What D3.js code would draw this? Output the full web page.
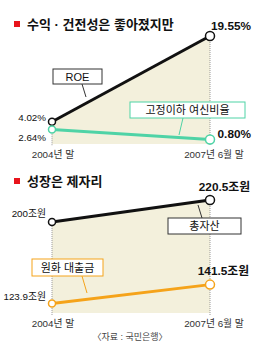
<!DOCTYPE html>
<html lang="ko">
<head>
<meta charset="UTF-8"/>
<title>수익 건전성 / 성장</title>
<script src="https://d3js.org/d3.v7.min.js"></script>
<style>
    body { margin: 0; background: #fff; }
    svg text { font-family: "Liberation Sans", "Noto Sans CJK KR", sans-serif; }
</style>
</head>
<body>
<script>
    var w = 259;
    var h = 352;

    var periods = ["2004년 말", "2007년 6월 말"];
    var roe = [4.02, 19.55];
    var npl = [2.64, 0.80];
    var roeLabels = ["4.02%", "19.55%"];
    var nplLabels = ["2.64%", "0.80%"];

    var assets = [200, 220.5];
    var loans = [123.9, 141.5];
    var assetLabels = ["200조원", "220.5조원"];
    var loanLabels = ["123.9조원", "141.5조원"];

    var fillCol = "#f3f0dc";
    var teal = "#4fd3a6";
    var orange = "#f5a31a";

    var svg = d3.select("body").append("svg")
        .attr("width", w)
        .attr("height", h);

    var xScale = d3.scalePoint()
        .domain(periods)
        .range([52, 210]);

    function panel(cfg) {
        var yScale = d3.scaleLinear()
            .domain(cfg.domain)
            .range(cfg.range);
        var g = svg.append("g");
        var base = cfg.domain[0];

        // title
        g.append("rect").attr("x", 14).attr("y", cfg.titleY - 8)
            .attr("width", 6).attr("height", 6).attr("fill", "#e8141c");
        g.append("text").attr("x", 27).attr("y", cfg.titleY)
            .attr("font-size", 13).attr("font-weight", "bold")
            .attr("fill", "#111").text(cfg.title);

        // beige area under the top line
        var area = d3.area()
            .x(function(d, i) { return xScale(periods[i]); })
            .y0(yScale(base))
            .y1(function(d) { return yScale(d); });
        g.append("path").datum(cfg.top).attr("d", area).attr("fill", fillCol);

        // dotted verticals
        periods.forEach(function(p, i) {
            g.append("line")
                .attr("x1", xScale(p)).attr("x2", xScale(p))
                .attr("y1", yScale(cfg.top[i])).attr("y2", yScale(base) + 2)
                .attr("stroke", "#999").attr("stroke-width", 1)
                .attr("stroke-dasharray", "1,1");
            g.append("text")
                .attr("x", xScale(p) + (i == 0 ? 1 : 4))
                .attr("y", yScale(base) + 14)
                .attr("text-anchor", "middle")
                .attr("font-size", 9.8).attr("fill", "#333")
                .text(p);
        });

        var line = d3.line()
            .x(function(d, i) { return xScale(periods[i]); })
            .y(function(d) { return yScale(d); });

        [[cfg.top, cfg.topColor], [cfg.bottom, cfg.bottomColor]].forEach(function(s) {
            g.append("path").datum(s[0]).attr("d", line)
                .attr("fill", "none").attr("stroke", s[1]).attr("stroke-width", 3);
        });

        // label boxes with connector ticks
        cfg.boxes.forEach(function(b) {
            g.append("line").attr("x1", b.lx1).attr("y1", b.ly1)
                .attr("x2", b.lx2).attr("y2", b.ly2)
                .attr("stroke", b.color).attr("stroke-width", 1);
            g.append("rect").attr("x", b.x).attr("y", b.y)
                .attr("width", b.w).attr("height", b.h)
                .attr("fill", "#fff").attr("stroke", b.color).attr("stroke-width", 1);
            g.append("text").attr("x", b.x + b.w / 2).attr("y", b.y + b.h / 2 + 4)
                .attr("text-anchor", "middle").attr("font-size", 11).attr("fill", "#111")
                .text(b.text);
        });

        [[cfg.top, cfg.topColor], [cfg.bottom, cfg.bottomColor]].forEach(function(s) {
            g.selectAll(null).data(s[0]).enter().append("circle")
                .attr("cx", function(d, i) { return xScale(periods[i]); })
                .attr("cy", function(d) { return yScale(d); })
                .attr("r", function(d, i) { return i == 0 ? 3.5 : 4.5; })
                .attr("fill", "#fff").attr("stroke", s[1]).attr("stroke-width", 1.5);
        });

        // value labels
        cfg.values.forEach(function(v) {
            g.append("text").attr("x", v.x).attr("y", yScale(v.v) + v.dy)
                .attr("text-anchor", v.anchor)
                .attr("font-size", v.bold ? 11.8 : 9.8)
                .attr("font-weight", v.bold ? "bold" : "normal")
                .attr("fill", "#111").text(v.text);
        });
    }

    panel({
        title: "수익 · 건전성은 좋아졌지만",
        titleY: 29,
        domain: [0, 19.55],
        range: [144, 36],
        top: roe, topColor: "#111",
        bottom: npl, bottomColor: teal,
        boxes: [
            { text: "ROE", x: 53, y: 69, w: 49, h: 15, color: "#333",
              lx1: 82, ly1: 84, lx2: 86, ly2: 97 },
            { text: "고정이하 여신비율", x: 130, y: 102, w: 115, h: 16, color: teal,
              lx1: 183, ly1: 118, lx2: 179, ly2: 135 }
        ],
        values: [
            { v: roe[0], text: roeLabels[0], x: 46, dy: -1, anchor: "end" },
            { v: npl[0], text: nplLabels[0], x: 46, dy: 12, anchor: "end" },
            { v: roe[1], text: roeLabels[1], x: 251, dy: -6, anchor: "end", bold: true },
            { v: npl[1], text: nplLabels[1], x: 251, dy: -2, anchor: "end", bold: true }
        ]
    });

    panel({
        title: "성장은 제자리",
        titleY: 186,
        domain: [115, 220.5],
        range: [313, 200],
        top: assets, topColor: "#111",
        bottom: loans, bottomColor: orange,
        boxes: [
            { text: "총자산", x: 168, y: 218, w: 73, h: 16, color: "#333",
              lx1: 198, ly1: 205, lx2: 202, ly2: 218 },
            { text: "원화 대출금", x: 32, y: 259, w: 71, h: 17, color: orange,
              lx1: 82, ly1: 276, lx2: 87, ly2: 293 }
        ],
        values: [
            { v: assets[0], text: assetLabels[0], x: 46, dy: -5, anchor: "end" },
            { v: loans[0], text: loanLabels[0], x: 46, dy: -3, anchor: "end" },
            { v: assets[1], text: assetLabels[1], x: 250, dy: -9, anchor: "end", bold: true },
            { v: loans[1], text: loanLabels[1], x: 249, dy: -10, anchor: "end", bold: true }
        ]
    });

    svg.append("text").attr("x", 130).attr("y", 340)
        .attr("text-anchor", "middle").attr("font-size", 9).attr("fill", "#444")
        .text("〈자료 : 국민은행〉");
</script>
</body>
</html>
